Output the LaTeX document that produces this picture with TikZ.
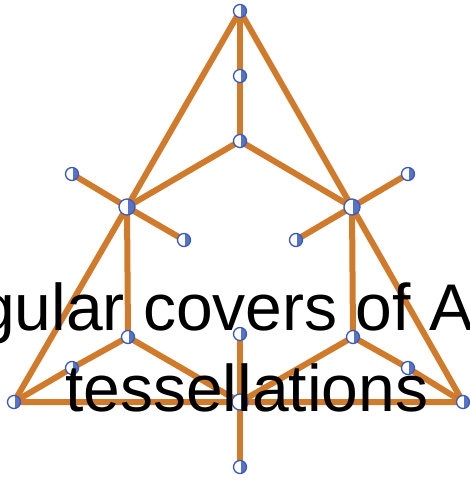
\documentclass[tikz,border=0pt]{standalone}
\usepackage{fontspec}
\setmainfont{Liberation Sans}
\definecolor{edgeor}{RGB}{208,122,44}
\definecolor{nblue}{RGB}{60,90,185}
\begin{document}
\begin{tikzpicture}[x=1pt,y=-1pt,
  vtx/.style={circle,inner sep=0pt,minimum size=13pt,fill=white,draw=nblue,line width=1.3pt,
    path picture={\fill[nblue!85] ([xshift=1pt]path picture bounding box.north) rectangle (path picture bounding box.south east);}},
  hub/.style={vtx,minimum size=16pt},
  edge/.style={draw=edgeor,line width=6pt},
  lbl/.style={font=\fontsize{66}{81}\selectfont,text=black,inner sep=0pt,anchor=base west}]
\useasboundingbox (0,0) rectangle (470,482);
\clip (0,0) rectangle (470,482);
\coordinate (top) at (240,11);
\coordinate (c1) at (240,76);
\coordinate (c2) at (240,141);
\coordinate (lh) at (127,207);
\coordinate (rh) at (352,207);
\coordinate (la) at (72,174);
\coordinate (lb) at (184,240);
\coordinate (ra) at (408,174);
\coordinate (rb) at (296,240);
\coordinate (ll) at (128,337);
\coordinate (rl) at (353,337);
\coordinate (lm) at (72,368);
\coordinate (rm) at (408,368);
\coordinate (bl) at (14,402);
\coordinate (br) at (463,402);
\coordinate (bc) at (240,402);
\coordinate (bt) at (240,334);
\coordinate (bb) at (240,467);
\path[edge] (top) -- (lh) -- (bl) -- (bc) -- (br) -- (rh) -- (top);
\path[edge] (top) -- (c1) -- (c2);
\path[edge] (c2) -- (lh);
\path[edge] (c2) -- (rh);
\path[edge] (lh) -- (la);
\path[edge] (lh) -- (lb);
\path[edge] (rh) -- (ra);
\path[edge] (rh) -- (rb);
\path[edge] (lh) -- (ll);
\path[edge] (rh) -- (rl);
\path[edge] (ll) -- (lm) -- (bl);
\path[edge] (rl) -- (rm) -- (br);
\path[edge] (ll) -- (bc);
\path[edge] (rl) -- (bc);
\path[edge] (bt) -- (bc) -- (bb);
\foreach \n/\s in {top/vtx,c1/vtx,c2/vtx,lh/hub,rh/hub,la/vtx,lb/vtx,ra/vtx,rb/vtx,ll/vtx,rl/vtx,lm/vtx,rm/vtx,bl/vtx,br/vtx,bc/hub,bt/vtx,bb/vtx}
  \node[\s] (n-\n) at (\n) {};
\node[lbl] (t1) at (-22,330) {gular covers of A};
\node[lbl] (t2) at (65,411) {tessellations};
\end{tikzpicture}
\end{document}
